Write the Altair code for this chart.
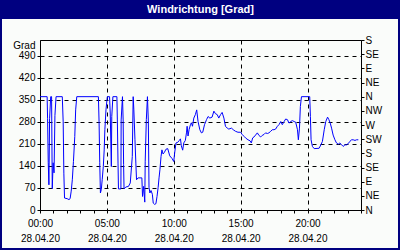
import altair as alt
import pandas as pd

# ---- data (minutes after 00:00, wind direction in degrees)
minutes = [0, 32, 34, 37, 40, 43, 48, 52, 55, 59, 63, 67, 72, 100, 104, 107, 110, 122, 130, 135,
           140, 145, 150, 156, 160, 165, 262, 265, 268, 271, 275, 279, 284, 288, 291, 296, 302,
           312, 315, 320, 322, 327, 345, 347, 350, 352, 363, 364, 370, 373, 375, 377, 385, 397,
           405, 414, 418, 421, 426, 430, 433, 440, 457, 460, 465, 470, 472, 477, 482, 486, 489,
           493, 498, 504, 508, 514, 520, 525, 530, 534, 538, 543, 547, 552, 558, 565, 573, 582,
           592, 600, 604, 610, 618, 625, 630, 634, 640, 645, 652, 657, 660, 664, 669, 675, 679,
           684, 690, 697, 703, 709, 717, 724, 730, 738, 747, 754, 762, 772, 780, 787, 795, 802,
           810, 817, 825, 832, 840, 847, 859, 867, 877, 888, 900, 907, 915, 922, 933, 942, 948,
           954, 960, 967, 975, 982, 990, 997, 1005, 1012, 1020, 1027, 1035, 1042, 1050, 1057,
           1065, 1072, 1080, 1087, 1095, 1102, 1110, 1117, 1125, 1132, 1140, 1147, 1155, 1159,
           1164, 1168, 1173, 1210, 1213, 1216, 1222, 1230, 1252, 1260, 1267, 1275, 1282, 1290,
           1296, 1302, 1308, 1315, 1323, 1330, 1338, 1345, 1353, 1360, 1368, 1375, 1383, 1390,
           1398, 1405, 1413, 1420, 1428]
degrees = [360, 360, 290, 150, 80, 290, 360, 360, 68, 150, 118, 300, 360, 360, 280, 117, 38, 36, 33, 36,
           60, 96, 154, 233, 318, 360, 360, 280, 150, 54, 65, 96, 138, 191, 255, 318, 360,
           360, 308, 138, 297, 360, 360, 286, 149, 67, 67, 286, 360, 286, 145, 67, 73, 75,
           86, 170, 360, 318, 223, 149, 96, 102, 102, 43, 75, 25, 155, 287, 360, 283, 72,
           54, 62, 50, 22, 18, 20, 43, 72, 102, 128, 170, 191, 178, 183, 193, 195, 172,
           164, 154, 181, 213, 215, 221, 226, 204, 190, 213, 221, 245, 266, 235, 256, 271, 277,
           266, 292, 303, 318, 281, 255, 245, 247, 271, 287, 297, 292, 295, 314, 306, 303, 292,
           303, 310, 292, 266, 260, 257, 260, 255, 250, 247, 247, 240, 234, 229, 223, 220, 213,
           229, 232, 238, 245, 237, 232, 237, 240, 245, 243, 245, 250, 255, 255, 257,
           266, 271, 281, 271, 281, 289, 287, 276, 281, 284, 281, 279, 255, 223,
           260, 329, 360, 360, 297, 223, 202, 195, 196, 207, 218, 255, 281, 295,
           287, 276, 260, 238, 223, 213, 209, 213, 207, 202, 207, 207, 211, 218,
           223, 223, 221, 223, 223]

left_ticks = [0, 70, 140, 210, 280, 350, 420, 490]
right_ticks = [0, 45, 90, 135, 180, 225, 270, 315, 360, 405, 450, 495, 540]
compass = ["N", "NE", "E", "SE", "S", "SW", "W", "NW", "N", "NE", "E", "SE", "S"]
hour_ticks = list(range(25))
date_label = "28.04.20"
chart_title = "Windrichtung [Grad]"
y_title = "Grad"

df = pd.DataFrame({"h": [m / 60 for m in minutes], "deg": degrees})

FONT = "Liberation Sans"
NAVY = "#000080"
PANEL = "#FAFCFA"

xscale = alt.Scale(domain=[0, 24], nice=False, zero=False)
yscale = alt.Scale(domain=[0, 540], nice=False, zero=True)

compass_js = "[" + ",".join("'" + c + "'" for c in compass) + "]"

one_row = alt.Data(values=[{}])

# decorative window frame: navy border and navy title bar
border = alt.Chart(one_row).mark_rect(fill=None, filled=False, stroke=NAVY, strokeWidth=2).encode(
    x=alt.value(-39), x2=alt.value(359), y=alt.value(-39), y2=alt.value(209)
)
title_bar = alt.Chart(one_row).mark_rect(color=NAVY).encode(
    x=alt.value(-40), x2=alt.value(360), y=alt.value(-40), y2=alt.value(-21)
)

line = alt.Chart(df).mark_line(color="#0000FF", strokeWidth=1, clip=True).encode(
    x=alt.X(
        "h:Q", scale=xscale,
        axis=alt.Axis(
            values=hour_ticks, title=None, orient="bottom",
            labelExpr=("datum.value % 5 == 0 && datum.value < 24 ? "
                       "[(datum.value < 10 ? '0' : '') + datum.value + ':00', '" + date_label + "'] : ''"),
            labelFlush=False, labelOverlap=False, labelFont=FONT, labelFontSize=10,
            labelColor="black", labelLineHeight=15, labelPadding=5, labelBaseline="top",
            tickSize=3, tickColor="black", domainColor="black",
            grid=True, gridColor="black", gridDash=[4, 4], gridWidth=1,
            gridOpacity={"condition": {"test": "datum.value % 5 == 0 && datum.value > 0 && datum.value < 24",
                                       "value": 1}, "value": 0},
        ),
    ),
    y=alt.Y(
        "deg:Q", scale=yscale,
        axis=alt.Axis(
            values=left_ticks, orient="left", title=y_title, titleAngle=0,
            titleAlign="right", titleBaseline="middle", titleX=-5, titleY=5,
            titleFont=FONT, titleFontSize=10, titleFontWeight="normal", titleColor="black",
            labelFont=FONT, labelFontSize=10, labelColor="black", labelPadding=2,
            labelFlush=False, labelOverlap=False,
            tickSize=3, tickColor="black", domainColor="black",
            grid=True, gridColor="black", gridDash=[4, 4], gridWidth=1,
        ),
    ),
)

right = alt.Chart(df).mark_point(opacity=0).encode(
    y=alt.Y(
        "deg:Q", scale=yscale,
        axis=alt.Axis(
            values=right_ticks, orient="right", title=None,
            labelExpr=compass_js + "[round(datum.value / 45)]",
            labelFont=FONT, labelFontSize=10, labelColor="black", labelPadding=1,
            labelFlush=False, labelOverlap=False,
            tickSize=3, tickColor="black", domainColor="black", grid=False,
        ),
    ),
)

chart = (
    alt.layer(title_bar, border, line, right)
    .resolve_axis(y="independent")
    .properties(
        width=321, height=170,
        padding={"left": 40, "top": 40, "right": 39, "bottom": 40},
        autosize=alt.AutoSizeParams(type="none"),
        background=PANEL,
        title=alt.TitleParams(chart_title, color="white", font=FONT, fontSize=11,
                              fontWeight="bold", anchor="middle", baseline="bottom", offset=-26),
    )
    .configure_view(stroke="black", strokeWidth=1, fill=PANEL)
)

chart.save("out.html", embed_options={"renderer": "svg", "actions": False})
